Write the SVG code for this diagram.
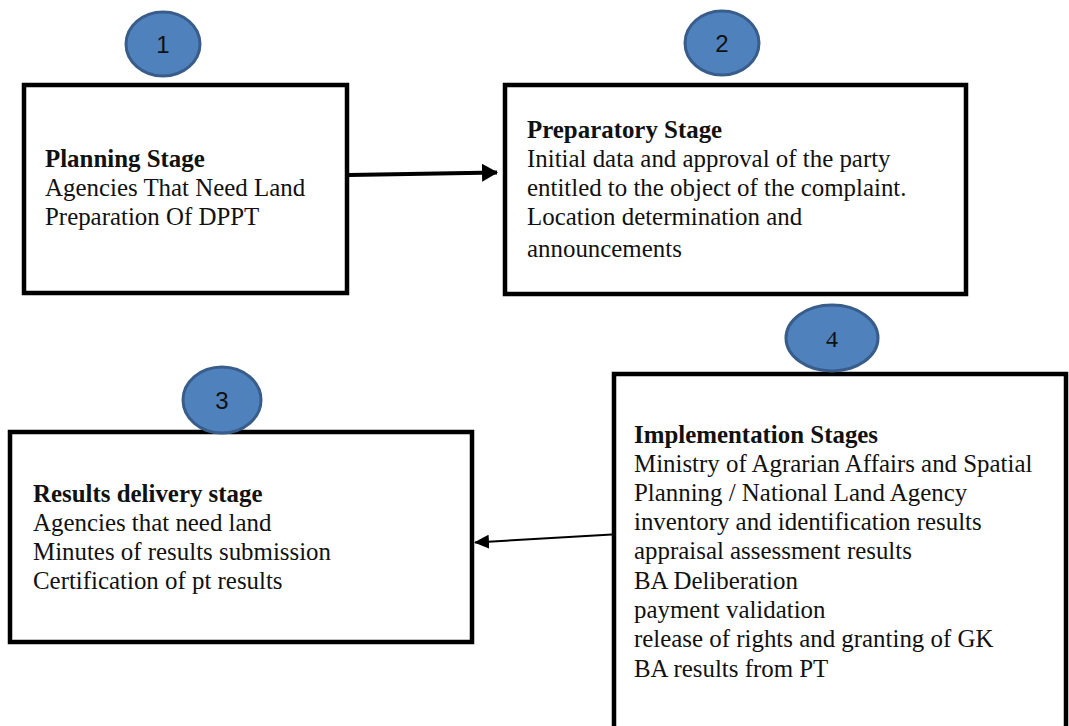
<svg xmlns="http://www.w3.org/2000/svg" width="1069" height="726" viewBox="0 0 1069 726">
<style>
.box{fill:#fff;stroke:#000;stroke-width:4.5}
.badge{fill:#4F81BD;stroke:#385D8A;stroke-width:3}
.num{font-family:"Liberation Sans",Arial,sans-serif;font-size:24px;fill:#111;text-anchor:middle}
.t{font-family:"Liberation Serif","Times New Roman",serif;font-size:24.9px;fill:#111}
.b{font-weight:bold}
.conn{fill:none;stroke:#000}
</style>
<defs>
<marker id="ah1" markerUnits="userSpaceOnUse" markerWidth="16" markerHeight="18" refX="15" refY="9" orient="auto"><path d="M0,0 L16,9 L0,18 Z" fill="#000"/></marker>
<marker id="ah2" markerUnits="userSpaceOnUse" markerWidth="15" markerHeight="14" refX="14" refY="7" orient="auto"><path d="M0,0 L15,7 L0,14 Z" fill="#000"/></marker>
</defs>
<rect width="1069" height="726" fill="#fff"/>
<g id="node-planning">
<rect class="box" x="24" y="85" width="323" height="208"/>
<text class="t"><tspan class="b" x="45" y="167">Planning Stage</tspan><tspan x="45" y="196">Agencies That Need Land</tspan><tspan x="45" y="225">Preparation Of DPPT</tspan></text>
</g>
<g id="node-badge1"><ellipse class="badge" cx="163" cy="44" rx="37" ry="32"/><text class="num" x="163" y="53">1</text></g>
<g id="node-preparatory">
<rect class="box" x="505" y="85" width="461" height="209"/>
<text class="t"><tspan class="b" x="527" y="138">Preparatory Stage</tspan><tspan x="527" y="167">Initial data and approval of the party</tspan><tspan x="527" y="196">entitled to the object of the complaint.</tspan><tspan x="527" y="225">Location determination and</tspan><tspan x="527" y="257">announcements</tspan></text>
</g>
<g id="node-badge2"><ellipse class="badge" cx="722" cy="43" rx="37" ry="32"/><text class="num" x="722" y="52">2</text></g>
<g id="node-results">
<rect class="box" x="10" y="432" width="462" height="210"/>
<text class="t"><tspan class="b" x="33" y="502">Results delivery stage</tspan><tspan x="33" y="531">Agencies that need land</tspan><tspan x="33" y="560">Minutes of results submission</tspan><tspan x="33" y="589">Certification of pt results</tspan></text>
</g>
<g id="node-badge3"><ellipse class="badge" cx="222" cy="400" rx="39" ry="33"/><text class="num" x="222" y="409">3</text></g>
<g id="node-implementation">
<rect class="box" x="614" y="374" width="452" height="400"/>
<text class="t"><tspan class="b" x="634" y="443">Implementation Stages</tspan><tspan x="634" y="472">Ministry of Agrarian Affairs and Spatial</tspan><tspan x="634" y="501">Planning / National Land Agency</tspan><tspan x="634" y="530">inventory and identification results</tspan><tspan x="634" y="559">appraisal assessment results</tspan><tspan x="634" y="589">BA Deliberation</tspan><tspan x="634" y="618">payment validation</tspan><tspan x="634" y="647">release of rights and granting of GK</tspan><tspan x="634" y="677">BA results from PT</tspan></text>
</g>
<g id="node-badge4"><ellipse class="badge" cx="832" cy="338" rx="46" ry="33"/><text class="num" x="832" y="347" style="font-family:'Liberation Serif',serif">4</text></g>
<g id="connectors">
<line class="conn" x1="349" y1="175" x2="497" y2="172.5" stroke-width="4" marker-end="url(#ah1)"/>
<line class="conn" x1="612" y1="534.5" x2="475" y2="542.5" stroke-width="2" marker-end="url(#ah2)"/>
</g>
</svg>
